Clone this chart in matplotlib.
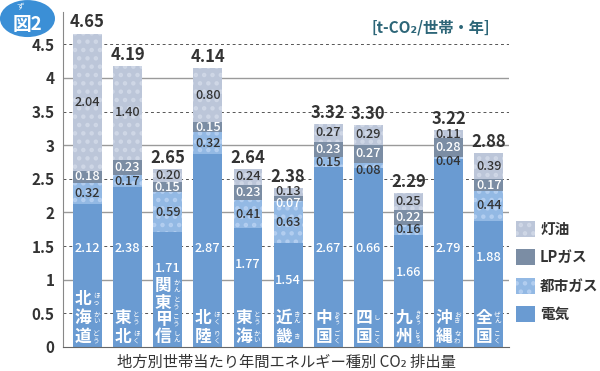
import numpy as np
import matplotlib
matplotlib.use('Agg')
import matplotlib.pyplot as plt
from matplotlib.patches import Patch, Ellipse

plt.rcParams['font.family'] = ['Noto Sans CJK JP', 'DejaVu Sans']
plt.rcParams['hatch.linewidth'] = 2.0

# 地域と読みがな(1文字ずつ)
regions = ['北海道', '東北', '関東甲信', '北陸', '東海', '近畿', '中国', '四国', '九州', '沖縄', '全国']
ruby = [['ほっ', 'かい', 'どう'], ['とう', 'ほく'], ['かん', 'とう', 'こう', 'しん'], ['ほく', 'りく'],
        ['とう', 'かい'], ['きん', 'き'], ['ちゅう', 'ごく'], ['し', 'こく'], ['きゅう', 'しゅう'],
        ['おき', 'なわ'], ['ぜん', 'こく']]

# エネルギー種別 CO2 排出量 [t-CO2/世帯・年]
denki = [2.12, 2.38, 1.71, 2.87, 1.77, 1.54, 2.67, 2.66, 1.66, 2.79, 1.88]
toshigas = [0.32, 0.17, 0.59, 0.32, 0.41, 0.63, 0.15, 0.08, 0.16, 0.04, 0.44]
lpgas = [0.18, 0.23, 0.15, 0.15, 0.23, 0.07, 0.23, 0.27, 0.22, 0.28, 0.17]
touyu = [2.04, 1.40, 0.20, 0.80, 0.24, 0.13, 0.27, 0.29, 0.25, 0.11, 0.39]
totals = ['4.65', '4.19', '2.65', '4.14', '2.64', '2.38', '3.32', '3.30', '2.29', '3.22', '2.88']
# 図に印字されている電気の数値 (四国は 0.66 と表記)
denki_text = ['2.12', '2.38', '1.71', '2.87', '1.77', '1.54', '2.67', '0.66', '1.66', '2.79', '1.88']

c_denki = '#6a9bd2'
c_toshi = '#93b9e4'
c_lp = '#7b8da4'
c_touyu = '#bcc6d9'
dot_toshi = '#b3cef0'
dot_touyu = '#cfd7e6'
dark = '#333333'

fig = plt.figure(figsize=(6, 3.71), dpi=100)
ax = fig.add_axes([0.105, 0.0647, 0.743, 0.903])
x = np.arange(len(regions))
w = 0.72

# 補助線
for v in [1, 2, 3, 4]:
    ax.axhline(v, color='#9a9a9a', lw=1, zorder=0)
for v in [0.5, 1.5, 2.5, 3.5, 4.5]:
    ax.axhline(v, color='#555555', lw=0.7, ls=(0, (3, 3)), zorder=0)

series = [
    (denki, c_denki, None, None, 'white'),
    (toshigas, c_toshi, '..', dot_toshi, dark),
    (lpgas, c_lp, None, None, 'white'),
    (touyu, c_touyu, '..', dot_touyu, dark),
]
bottom = np.zeros(len(regions))
for k, (vals, col, hatch, hcol, tcol) in enumerate(series):
    vals = np.array(vals)
    ax.bar(x, vals, w, bottom=bottom, color=col, hatch=hatch,
           edgecolor=hcol if hcol else col, linewidth=0, zorder=2)
    for i in range(len(regions)):
        if k == 0:
            y = min(vals[i] - 0.55, 1.47)
            txt = denki_text[i]
        else:
            y = bottom[i] + vals[i] / 2
            if vals[i] < 0.1:
                y = bottom[i] - 0.04
            txt = '%.2f' % vals[i]
        ax.text(x[i], y, txt, ha='center', va='center', fontsize=9.2,
                fontweight='medium', color=tcol, zorder=4)
    bottom = bottom + vals

# 合計
for i in range(len(regions)):
    ax.text(x[i], bottom[i] + 0.03, totals[i], ha='center', va='bottom',
            fontsize=12, fontweight='bold', color=dark, zorder=4)

# 地域名(縦書き + ふりがな)
for i, name in enumerate(regions):
    n = len(name)
    step = 0.25 if n == 4 else 0.28
    for j, ch in enumerate(name):
        y = 0.15 + (n - 1 - j) * step
        ax.text(x[i] - 0.11, y, ch, ha='center', va='center', fontsize=12,
                fontweight='bold', color='white', zorder=5)
        kana = ruby[i][j]
        fs = 4.8 if len(kana) < 3 else 3.8
        ax.text(x[i] + 0.22, y, '\n'.join(kana), ha='center', va='center',
                fontsize=fs, color='white', linespacing=0.8, zorder=5)

ax.set_xlim(-0.61, 10.5)
ax.set_ylim(0, 4.98)
ax.set_xticks([])
ax.set_yticks(np.arange(0, 5, 0.5))
ax.set_yticklabels(['0', '0.5', '1', '1.5', '2', '2.5', '3', '3.5', '4', '4.5'])
ax.tick_params(axis='y', length=0, pad=6, labelsize=11, labelcolor=dark)
for lab in ax.get_yticklabels():
    lab.set_fontweight('bold')
for s in ['top', 'right']:
    ax.spines[s].set_visible(False)
ax.spines['left'].set_color('#888888')
ax.spines['bottom'].set_color('#666666')

# 凡例
handles = [
    Patch(facecolor=c_touyu, edgecolor=dot_touyu, hatch='..', linewidth=0),
    Patch(facecolor=c_lp, linewidth=0),
    Patch(facecolor=c_toshi, edgecolor=dot_toshi, hatch='..', linewidth=0),
    Patch(facecolor=c_denki, linewidth=0),
]
fig.legend(handles, ['灯油', 'LPガス', '都市ガス', '電気'], loc='upper left',
           bbox_to_anchor=(0.86, 0.405), frameon=False, borderpad=0, borderaxespad=0,
           handlelength=1.3, handleheight=1.3, handletextpad=0.35, labelspacing=0.85,
           prop={'size': 10.5, 'weight': 'bold'}, labelcolor=dark)

# 単位・タイトル
fig.text(0.718, 0.927, '[t-CO₂/世帯・年]', ha='center', va='center', fontsize=11,
         fontweight='bold', color='#2d6678')
fig.text(0.477, 0.024, '地方別世帯当たり年間エネルギー種別 CO₂ 排出量', ha='center', va='center',
         fontsize=11, color=dark)

# 図2 バッジ
fig.patches.append(Ellipse((0.0458, 0.95), 0.0917, 0.0997, transform=fig.transFigure,
                           facecolor='#3b8fd6', edgecolor='none'))
fig.text(0.046, 0.935, '図2', ha='center', va='center', fontsize=13.5, fontweight='bold', color='white')
fig.text(0.034, 0.984, 'ず', ha='center', va='center', fontsize=5.5, color='white')

fig.savefig('out.png', dpi=100)
